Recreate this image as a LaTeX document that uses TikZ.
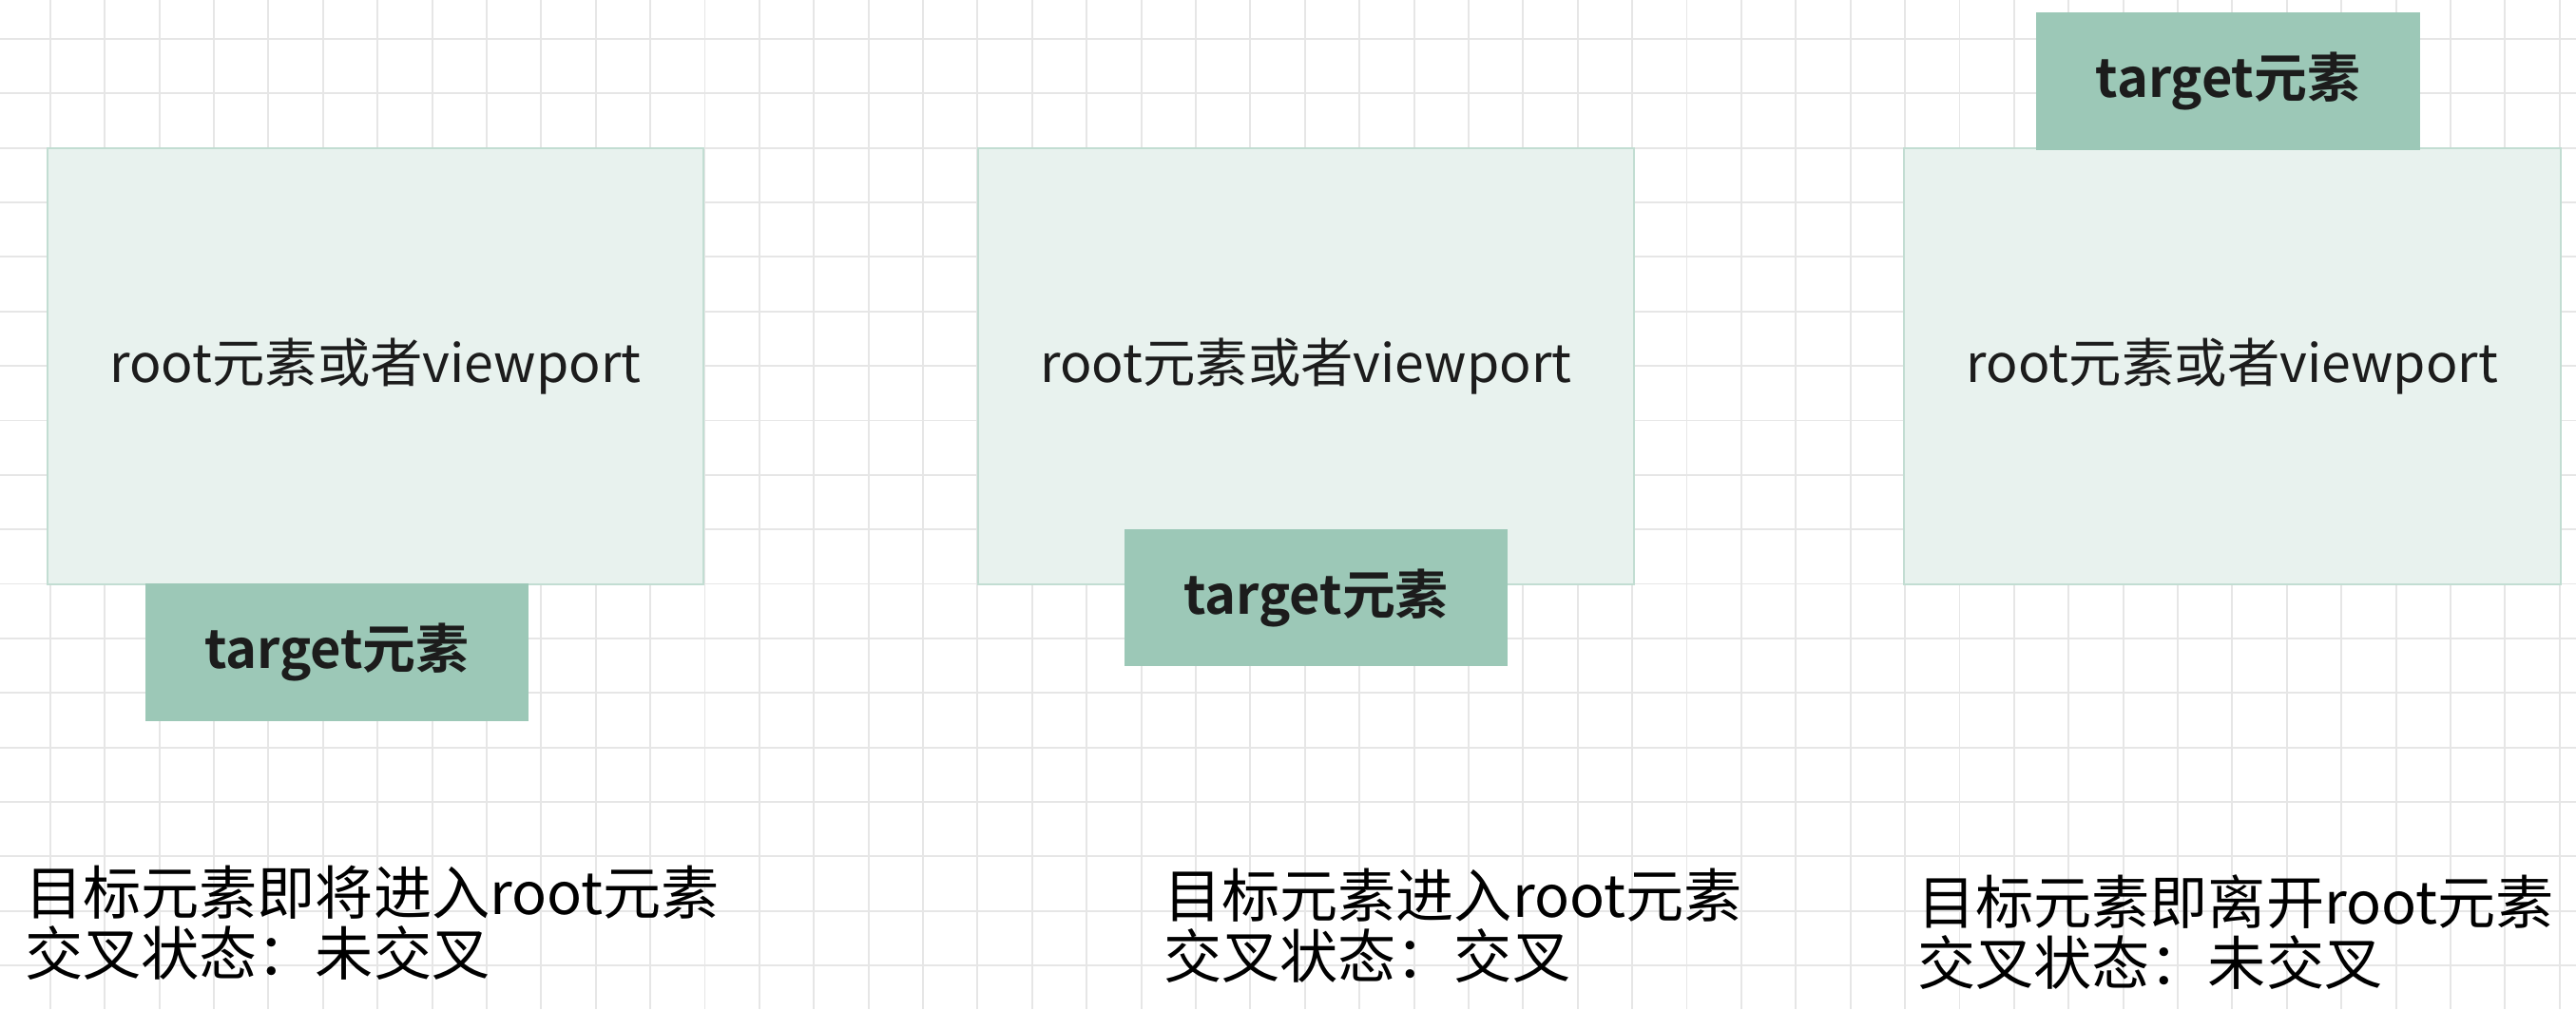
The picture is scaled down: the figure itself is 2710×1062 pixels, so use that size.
\documentclass[tikz,border=0pt]{standalone}
\usepackage{fontspec}
\setmainfont{Noto Sans CJK SC}[BoldFont={* Bold}]
\definecolor{gridc}{HTML}{E6E6E6}
\definecolor{rootfill}{HTML}{E8F2EE}
\definecolor{rootline}{HTML}{C2DDD2}
\definecolor{targetfill}{HTML}{9CC8B7}
\definecolor{txt}{HTML}{1C1C1C}
\begin{document}
\begin{tikzpicture}[x=0.01cm,y=-0.01cm,
  gridline/.style={draw=gridc,line width=0.55pt},
  rootbox/.style={draw=rootline,fill=rootfill,line width=0.6pt,inner sep=0pt,outer sep=0pt,
    minimum width=6.9cm,minimum height=4.58cm,text=txt,font=\fontsize{15.75pt}{19pt}\selectfont},
  targetbox/.style={draw=targetfill,fill=targetfill,line width=0.3pt,inner sep=0pt,outer sep=0pt,
    minimum width=4.02cm,minimum height=1.43cm,text=txt,font=\bfseries\fontsize{15.9pt}{19pt}\selectfont},
  caption/.style={anchor=base west,inner sep=0pt,outer sep=0pt,align=left,text=black,
    font=\fontsize{17.4pt}{18pt}\selectfont}]
\useasboundingbox (0,0) rectangle (2710,1062);
\fill[white] (0,0) rectangle (2710,1062);
\foreach \i in {0,...,46} \draw[gridline] ({52.8+57.39*\i},0) -- ({52.8+57.39*\i},1062);
\foreach \j in {0,...,17} \draw[gridline] (0,{41+57.35*\j}) -- (2710,{41+57.35*\j});

\node[rootbox] (root1) at (395,385.5) {root元素或者viewport};
\node[rootbox] (root2) at (1374,385.5) {root元素或者viewport};
\node[rootbox] (root3) at (2348.5,385.5) {root元素或者viewport};

\node[targetbox] (target1) at (354.5,686.5) {target元素};
\node[targetbox] (target2) at (1384.5,629) {target元素};
\node[targetbox] (target3) at (2344,85.5) {target元素};

\node[caption] (cap1) at (26,1026) {目标元素即将进入root元素\\交叉状态：未交叉};
\node[caption] (cap2) at (1224,1029) {目标元素进入root元素\\交叉状态：交叉};
\node[caption] (cap3) at (2017,1036) {目标元素即离开root元素\\交叉状态：未交叉};
\end{tikzpicture}
\end{document}
